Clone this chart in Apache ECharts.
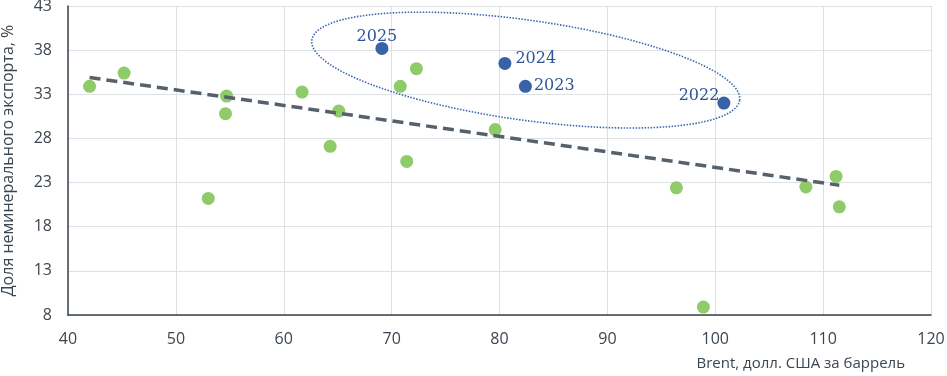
<!DOCTYPE html>
<html>
<head>
<meta charset="utf-8">
<script src="https://cdn.jsdelivr.net/npm/echarts@6/dist/echarts.min.js"></script>
<style>
  html, body { margin: 0; padding: 0; background: #fff; }
  #chart { width: 947px; height: 376px; }
</style>
</head>
<body>
<div id="chart"></div>
<script>
// прочие годы (зелёные точки)
const otherX = [42.0, 45.2, 54.7, 54.6, 53.0, 61.7, 65.1, 64.3, 70.8, 72.3, 71.4, 79.6, 96.4, 98.9, 108.4, 111.2, 111.5];
const otherY = [33.9, 35.4, 32.8, 30.8, 21.2, 33.25, 31.1, 27.1, 33.9, 35.9, 25.4, 29.0, 22.4, 8.9, 22.5, 23.7, 20.25];

// выделенные годы (синие точки)
const yearNames = ["2025", "2024", "2023", "2022"];
const yearX = [69.1, 80.5, 82.4, 100.8];
const yearY = [38.2, 36.5, 33.9, 32.0];

// линия тренда (концы)
const trendX = [42.0, 111.5];
const trendY = [34.9, 22.7];

// центр овала
const ovalCenter = [82.43, 35.74];

const xTicks = { min: 40, max: 120, step: 10 };
const yTicks = { min: 8, max: 43, step: 5 };

const chart = echarts.init(document.getElementById("chart"));

const labelPos = [
  { position: "top", distance: 0, offset: [-5, 3] },
  { position: "right", distance: 4, offset: [0, -5] },
  { position: "right", distance: 2, offset: [0, 0] },
  { position: "left", distance: -2, offset: [0, -7] },
];

const axisText = { color: "#3c4650", fontSize: 16, fontFamily: "Open Sans" };

chart.setOption({
  animation: false,
  grid: { left: 68, right: 16, top: 6, bottom: 61, containLabel: false, outerBoundsMode: "none" },
  xAxis: {
    type: "value",
    min: xTicks.min,
    max: xTicks.max,
    interval: xTicks.step,
    axisLine: { lineStyle: { color: "#37424c", width: 1.5 } },
    axisTick: { show: false },
    axisLabel: Object.assign({ margin: 16 }, axisText),
    splitLine: { lineStyle: { color: "#dde1e4", width: 1 } },
  },
  yAxis: {
    type: "value",
    min: yTicks.min,
    max: yTicks.max,
    interval: yTicks.step,
    name: "Доля неминерального экспорта, %",
    nameLocation: "middle",
    nameGap: 52,
    nameTextStyle: { color: "#3c4650", fontSize: 16, fontFamily: "Open Sans" },
    axisLine: { show: true, lineStyle: { color: "#37424c", width: 1.5 } },
    axisTick: { show: false },
    axisLabel: Object.assign({ margin: 16 }, axisText),
    splitLine: { lineStyle: { color: "#dde1e4", width: 1 } },
  },
  graphic: [
    {
      type: "text",
      right: 42,
      top: 356,
      style: {
        text: "Brent, долл. США за баррель",
        fill: "#3c4650",
        fontSize: 15,
        fontFamily: "Open Sans",
      },
    },
  ],
  series: [
    {
      type: "custom",
      silent: true,
      data: [ovalCenter],
      z: 1,
      renderItem: function (params, api) {
        const c = api.coord([api.value(0), api.value(1)]);
        const a = 216, b = 50, th = (8 * Math.PI) / 180;
        const pts = [];
        for (let i = 0; i < 180; i++) {
          const t = (i / 180) * Math.PI * 2;
          pts.push([
            c[0] + a * Math.cos(th) * Math.cos(t) - b * Math.sin(th) * Math.sin(t),
            c[1] + a * Math.sin(th) * Math.cos(t) + b * Math.cos(th) * Math.sin(t),
          ]);
        }
        return {
          type: "polygon",
          shape: { points: pts },
          style: { fill: "none", stroke: "#3d66b0", lineWidth: 1.6, lineDash: [1.5, 1.5] },
        };
      },
    },
    {
      type: "scatter",
      symbolSize: 13,
      data: otherX.map((x, i) => [x, otherY[i]]),
      itemStyle: { color: "#8fcb68", opacity: 1 },
    },
    {
      type: "scatter",
      symbolSize: 13,
      data: yearX.map((x, i) => ({
        value: [x, yearY[i]],
        label: Object.assign({ show: true, formatter: yearNames[i] }, labelPos[i]),
      })),
      itemStyle: { color: "#3862a8", opacity: 1 },
      label: {
        color: "#2f5597",
        fontSize: 16,
        fontFamily: "DejaVu Serif",
      },
    },
    {
      type: "line",
      data: trendX.map((x, i) => [x, trendY[i]]),
      symbol: "none",
      silent: true,
      lineStyle: { color: "#56616b", width: 3.5, type: [11, 6] },
    },
  ],
});
</script>
</body>
</html>
